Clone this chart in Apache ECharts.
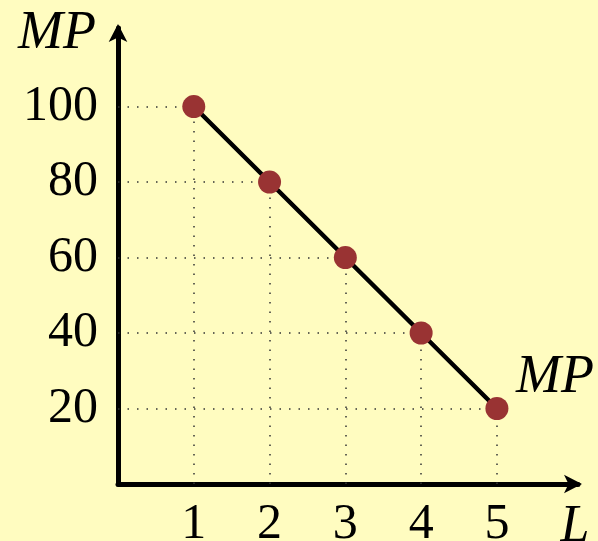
<!DOCTYPE html>
<html><head><meta charset="utf-8">
<script src="https://cdn.jsdelivr.net/npm/echarts@6/dist/echarts.min.js"></script>
<style>html,body{margin:0;padding:0;background:#FFFCC0}#c{width:598px;height:541px}</style>
</head><body><div id="c"></div>
<script>
const labor = [1, 2, 3, 4, 5];
const mp = [100, 80, 60, 40, 20];
const yTicks = [20, 40, 60, 80, 100];
const xTicks = [1, 2, 3, 4, 5];

const pts = labor.map((l, i) => [l, mp[i]]);
const guideLines = [];
pts.forEach(p => {
  guideLines.push([{coord: [0, p[1]]}, {coord: p}]);
  guideLines.push([{coord: [p[0], 0]}, {coord: p}]);
});
const font = 'Liberation Serif';
const chart = echarts.init(document.getElementById('c'));
chart.setOption({
  backgroundColor: '#FFFCC0',
  animation: false,
  grid: {left: 118, right: 20, top: 28, bottom: 57, containLabel: false, outerBoundsMode: 'none'},
  xAxis: {
    type: 'value', min: 0, max: 6.07,
    splitLine: {show: false}, axisTick: {show: false},
    axisLine: {show: true, lineStyle: {color: '#000', width: 5}, symbol: ['none', 'arrow'], symbolSize: [14, 18], symbolOffset: [0, 4]},
    axisLabel: {
      margin: 16, color: '#000', fontFamily: font, fontSize: 50,
      customValues: xTicks
    },
    name: 'L', nameLocation: 'end', nameGap: -3,
    nameTextStyle: {fontFamily: font, fontStyle: 'italic', fontSize: 52, color: '#000', align: 'center', verticalAlign: 'top', padding: [17, 0, 0, 0]}
  },
  yAxis: {
    type: 'value', min: 0, max: 120.8,
    splitLine: {show: false}, axisTick: {show: false},
    axisLine: {show: true, lineStyle: {color: '#000', width: 5}, symbol: ['none', 'arrow'], symbolSize: [14, 18], symbolOffset: [0, 4]},
    axisLabel: {
      margin: 20, color: '#000', fontFamily: font, fontSize: 50,
      customValues: yTicks
    },
    name: 'MP', nameLocation: 'end', nameGap: -6,
    nameTextStyle: {fontFamily: font, fontStyle: 'italic', fontSize: 54, color: '#000', align: 'right', verticalAlign: 'middle', padding: [0, 22, 0, 0]}
  },
  series: [{
    type: 'line',
    data: pts.map((p, i) => i === pts.length - 1 ? {
      value: p,
      label: {show: true, formatter: 'MP', position: 'top', offset: [58, 13], fontFamily: font, fontStyle: 'italic', fontSize: 54, color: '#000'}
    } : p),
    symbol: 'circle', symbolSize: 23,
    lineStyle: {color: '#000', width: 4.5},
    itemStyle: {color: '#993333'},
    z: 5,
    markLine: {
      silent: true, symbol: ['none', 'none'],
      lineStyle: {color: '#333', type: [1.5, 8], width: 1.5},
      label: {show: false},
      data: guideLines
    }
  }]
});
</script></body></html>
